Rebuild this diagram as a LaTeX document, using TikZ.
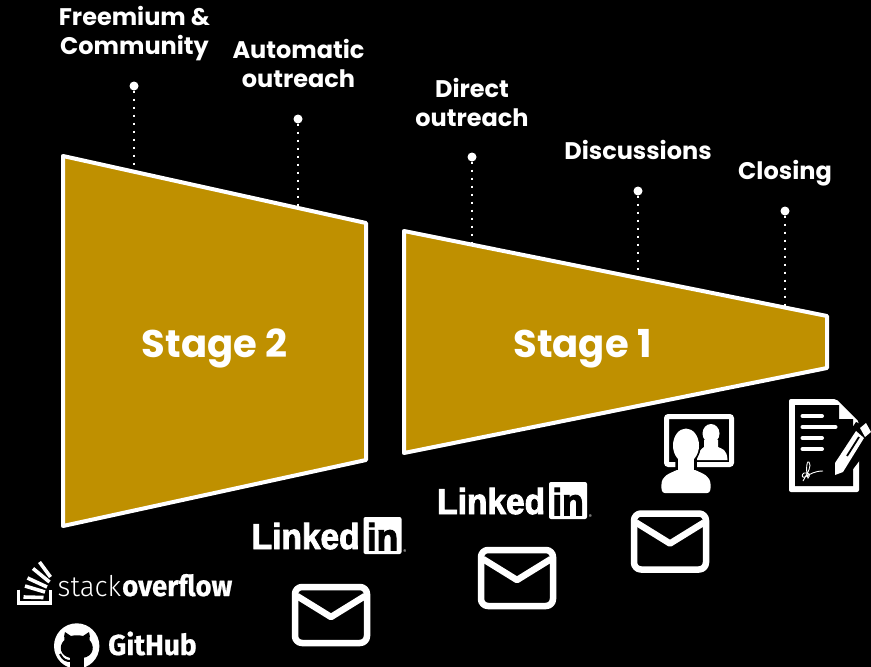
\documentclass[tikz,border=0pt]{standalone}
\usepackage{fontspec}
\setmainfont{Poppins}
\newfontfamily\lifont[UprightFont={* Bold},FakeStretch=0.93,FakeBold=2.5]{Liberation Sans}
\newfontfamily\sofont[FakeStretch=0.95,BoldFeatures={FakeBold=0.6}]{Fira Sans}
\newfontfamily\solight[FakeStretch=0.97]{Fira Sans Light}
\newfontfamily\ghfont[FakeStretch=0.97,BoldFeatures={FakeBold=0.6}]{Fira Sans}
\definecolor{gold}{HTML}{BF9000}
\tikzset{
  x=1pt,y=-1pt,
  funnel/.style={draw=white,line width=4pt,fill=gold,line join=round},
  stagelabel/.style={text=white,font=\fontsize{38.5}{40}\selectfont\bfseries,inner sep=0pt},
  steplabel/.style={text=white,align=center,inner sep=0pt,font=\fontsize{24}{29}\selectfont\bfseries},
  pin/.style={circle,fill=white,minimum size=9pt,inner sep=0pt},
  leader/.style={white,line width=2pt,dash pattern=on 2pt off 6pt},
  icon/.style={white,line width=6.5pt,line join=round,line cap=round},
}
\newcommand{\mailicon}[2]{%
  \begin{scope}[shift={(#1,#2)}]
    \draw[icon,rounded corners=7pt] (3,3) rectangle (75,59);
    \draw[icon,line cap=butt,line join=round] (5,12) -- (39,33) -- (73,12);
  \end{scope}}
\newcommand{\linkedinlogo}[2]{%
  \begin{scope}[shift={(#1,#2)}]
    \node[anchor=base west,inner sep=0pt,text=white,font=\fontsize{36}{36}\selectfont\lifont] at (-1.5,32) {Linked};
    \fill[white,rounded corners=2pt] (110.5,0) rectangle (148.5,37);
    \node[anchor=base,inner sep=0pt,text=black,font=\fontsize{38}{38}\selectfont\lifont] at (129.5,33.5) {in};
    \node[anchor=base,inner sep=0pt,text=white,font=\fontsize{5}{5}\selectfont\sofont] at (152,36) {®};
  \end{scope}}
\begin{document}
\begin{tikzpicture}
\useasboundingbox (0,0) rectangle (871,667);
\fill[black] (0,0) rectangle (871,667);

\node[pin] (p1) at (134,86) {};
\node[pin] (p2) at (298,119) {};
\node[pin] (p3) at (472,157) {};
\node[pin] (p4) at (638,191) {};
\node[pin] (p5) at (785,211) {};
\coordinate (e1) at (134,170);
\coordinate (e2) at (298,210);
\coordinate (e3) at (472,248);
\coordinate (e4) at (638,282);
\coordinate (e5) at (785,312);
\foreach \n in {1,...,5} \draw[leader] (p\n) -- (e\n);

\draw[funnel] (63,156) -- (366,223) -- (366,460) -- (63,526) -- cycle;
\draw[funnel] (404,231) -- (827,316) -- (827,368) -- (404,453) -- cycle;
\node[stagelabel,anchor=base] (s2) at (214.5,357) {Stage 2};
\node[stagelabel,anchor=base] (s1) at (582.5,357) {Stage 1};

\node[steplabel] (t1) at (134.5,33.5) {Freemium \&\\Community};
\node[steplabel] (t2) at (298.5,63) {Automatic\\outreach};
\node[steplabel] (t3) at (472,102) {Direct\\outreach};
\node[steplabel] (t4) at (638,150) {Discussions};
\node[steplabel] (t5) at (785,173.5) {Closing};

\linkedinlogo{253}{517}
\linkedinlogo{438.5}{482}
\mailicon{292}{584}
\mailicon{478}{547}
\mailicon{631}{510.5}

% stack overflow
\draw[white,line width=3.3pt,line join=miter] (18.5,589.5) -- (18.5,603) -- (50.8,603) -- (50.8,589.5);
\foreach \a/\b/\c/\d in {23.5/597/43.5/597.5, 25/586/45/592, 27.5/578/47/587, 33/568.5/49.5/582, 39.5/562/50.5/577}
  \draw[white,line width=3.6pt] (\a,\b) -- (\c,\d);
\node[anchor=base west,inner sep=0pt,text=white,font=\fontsize{28.5}{28}\selectfont\solight] (so1) at (57.5,596) {stack};
\node[anchor=base west,inner sep=0pt,text=white,font=\fontsize{29}{29}\selectfont\sofont\bfseries] (so2) at (122,596) {overflow};

% github
\begin{scope}
  \clip (0,600) rectangle (871,667);
  \fill[white] (76.7,646) circle (22.7);
  \fill[black] (65,632) -- (71,636) .. controls (75,635) and (79,635) .. (83,636) -- (89,632)
     .. controls (90,635) and (90,637) .. (89.5,640) .. controls (95,646) and (94,656) .. (83,658)
     -- (70.5,658) .. controls (60,656) and (58,646) .. (64.5,640) .. controls (64,637) and (64,635) .. (65,632) -- cycle;
  \fill[black] (70,656) rectangle (84,668);
  \draw[black,line width=2pt] (60,654) .. controls (63,660) and (66,661) .. (71,661);
\end{scope}
\node[anchor=base west,inner sep=0pt,text=white,font=\fontsize{29}{29}\selectfont\ghfont\bfseries] (gh) at (108,655) {GitHub};

% video call icon
\draw[white,line width=5pt,rounded corners=2pt] (666.5,416.5) rectangle (731.5,464.5);
\fill[white] (711,433.5) ellipse (8.5 and 9.5);
\fill[white] (704,440) -- (718,440) -- (718,447) .. controls (722,449) and (727,449) .. (727.5,460) -- (697,460) .. controls (698,450) and (702,449) .. (704,447) -- cycle;
\draw[black,line width=3.5pt,fill=black] (686,445.5) ellipse (13 and 17) (677,455) rectangle (695,472)
  (677,470) .. controls (668,474) and (662,476) .. (661.5,484) .. controls (661,490) and (662,493) .. (665,493) -- (707,493) .. controls (710,493) and (711,490) .. (710.5,484) .. controls (710,476) and (704,474) .. (695,470) -- cycle;
\fill[white] (686,445.5) ellipse (13 and 17);
\fill[white] (678,455) rectangle (694,472);
\fill[white] (677,470) .. controls (668,474) and (662,476) .. (661.5,484) .. controls (661,490) and (662,493) .. (665,493) -- (707,493) .. controls (710,493) and (711,490) .. (710.5,484) .. controls (710,476) and (704,474) .. (695,470) -- cycle;

% contract icon
\fill[white,rounded corners=2pt] (789,399) -- (836,399) -- (859,422) -- (859,492) -- (789,492) -- cycle;
\fill[black] (795,405) -- (839,405) -- (839,419) -- (853,419) -- (853,486) -- (795,486) -- cycle;
\foreach \a/\b/\c in {802.5/822/416, 802.5/835.5/427, 802.5/822/438, 802.5/822/449}
  \draw[white,line width=4pt,line cap=round] (\a,\c) -- (\b,\c);
\draw[white,line width=0.9pt] (803,481) .. controls (808,472) and (812,466) .. (809,462) .. controls (806,460) and (806,474) .. (808,478) .. controls (811,475) and (809,472) .. (804,473) .. controls (801,475) and (802,478) .. (805,477) .. controls (810,474) and (815,471) .. (823,471);
% pen
\fill[black] (830,481) -- (830,461) -- (856,422) -- (878,432) -- (860,460) -- (847,477) -- cycle;
\fill[white] (835,475) -- (835,463) -- (856,431) -- (864,438) -- (843,472) -- cycle;
\fill[white] (860,428) -- (866,423) -- (871,432) -- (865,437) -- cycle;
\draw[black,line width=1.8pt] (847,456) -- (859,437);
\end{tikzpicture}
\end{document}
